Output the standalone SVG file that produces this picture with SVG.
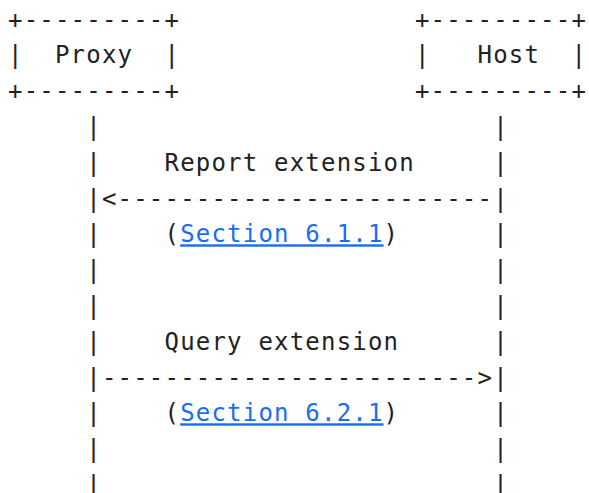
<svg xmlns="http://www.w3.org/2000/svg" width="589" height="493" viewBox="0 0 589 493">
<style>
text{font-family:"DejaVu Sans Mono","Liberation Mono",monospace;font-size:24px;letter-spacing:1.2px;fill:#222;white-space:pre}
.link{fill:#1a6cf0;text-decoration:underline}
</style>
<rect width="589" height="493" fill="#fff"/>
<g id="proxy">
<text x="8" y="27.5">+---------+</text>
<text x="8" y="63.3">|  Proxy  |</text>
<text x="8" y="99.1">+---------+</text>
</g>
<g id="host">
<text x="414.9" y="27.5">+---------+</text>
<text x="414.9" y="63.3">|   Host  |</text>
<text x="414.9" y="99.1">+---------+</text>
</g>
<g id="connectors">
<g id="lifeline-proxy">
<text x="86.25" y="134.9">|</text><text x="86.25" y="170.7">|</text><text x="86.25" y="206.5">|</text><text x="86.25" y="242.3">|</text><text x="86.25" y="278.1">|</text><text x="86.25" y="313.9">|</text><text x="86.25" y="349.7">|</text><text x="86.25" y="385.5">|</text><text x="86.25" y="421.3">|</text><text x="86.25" y="457.1">|</text><text x="86.25" y="492.9">|</text>
</g>
<g id="lifeline-host">
<text x="493.15" y="134.9">|</text><text x="493.15" y="170.7">|</text><text x="493.15" y="206.5">|</text><text x="493.15" y="242.3">|</text><text x="493.15" y="278.1">|</text><text x="493.15" y="313.9">|</text><text x="493.15" y="349.7">|</text><text x="493.15" y="385.5">|</text><text x="493.15" y="421.3">|</text><text x="493.15" y="457.1">|</text><text x="493.15" y="492.9">|</text>
</g>
<g id="msg-report">
<text x="164.5" y="170.7">Report extension</text>
<text x="101.9" y="206.5">&lt;------------------------</text>
<text x="164.5" y="242.3">(</text><text class="link" x="180.15" y="242.3">Section 6.1.1</text><text x="383.6" y="242.3">)</text>
</g>
<g id="msg-query">
<text x="164.5" y="349.7">Query extension</text>
<text x="101.9" y="385.5">------------------------&gt;</text>
<text x="164.5" y="421.3">(</text><text class="link" x="180.15" y="421.3">Section 6.2.1</text><text x="383.6" y="421.3">)</text>
</g>
</g>
</svg>
